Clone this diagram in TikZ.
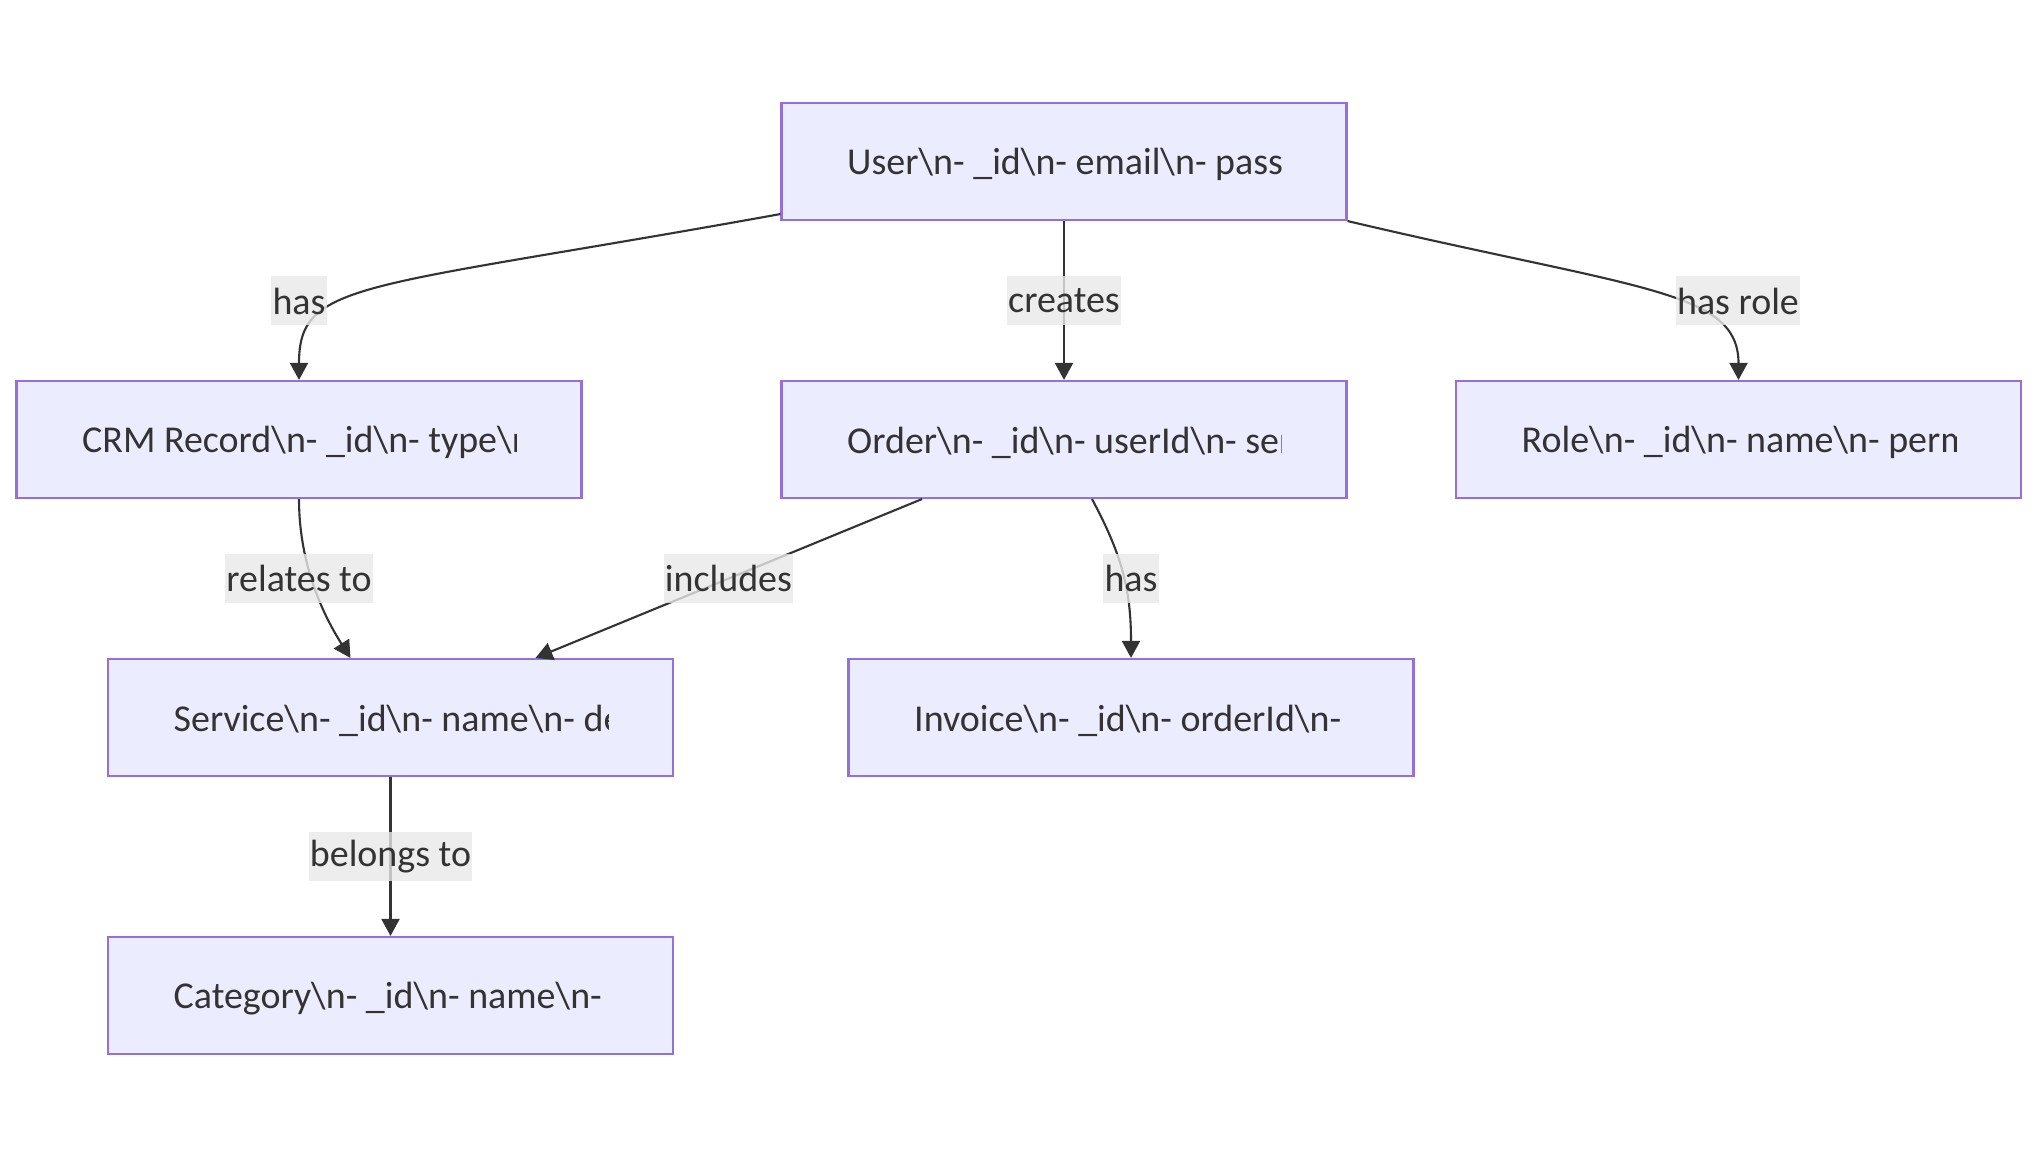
\documentclass[tikz,border=0pt]{standalone}
\usepackage{fontspec}
\setmainfont{Carlito}
\usetikzlibrary{arrows.meta}
\definecolor{EntityFill}{HTML}{ECECFF}
\definecolor{EntityLine}{HTML}{9370DB}
\definecolor{LinkGray}{HTML}{333333}
\definecolor{LabelGray}{HTML}{E8E8E8}

\newcommand{\bsn}{\textbackslash n}
% text of an entity, cut off at the right like the rendered box
\newcommand{\entitylabel}[2]{%
  \begin{scope}
    \clip ([xshift=-2.175cm,yshift=-0.5cm]#1.center) rectangle ([xshift=2.175cm,yshift=0.5cm]#1.center);
    \node[entitytext] (#1-text) at ([xshift=-2.175cm,yshift=-0.03cm]#1.center) {#2};
  \end{scope}}

\tikzset{
  entity/.style={
    draw=EntityLine,
    fill=EntityFill,
    line width=0.6pt,
    minimum width=5.65cm,
    minimum height=1.17cm,
    inner sep=0pt
  },
  entitytext/.style={
    anchor=west,
    inner sep=0pt,
    text=LinkGray,
    font=\fontsize{10.8}{13}\selectfont
  },
  link/.style={
    draw=LinkGray,
    line width=0.6pt,
    -{Triangle[length=0.17cm,width=0.18cm]}
  },
  linklabel/.style={
    fill=LabelGray,
    fill opacity=0.8,
    text opacity=1,
    text=LinkGray,
    inner xsep=0.3pt,
    inner ysep=0pt,
    minimum height=0.49cm,
    font=\fontsize{10.8}{13}\selectfont
  }
}

\begin{document}
\begin{tikzpicture}
  \useasboundingbox (0,0) rectangle (20.38,-11.58);

  % entities
  \node[entity] (user) at (10.64,-1.615) {};
  \node[entity] (crm) at (2.99,-4.395) {};
  \node[entity] (order) at (10.64,-4.395) {};
  \node[entity] (role) at (17.385,-4.395) {};
  \node[entity] (service) at (3.905,-7.175) {};
  \node[entity] (invoice) at (11.31,-7.175) {};
  \node[entity] (category) at (3.905,-9.955) {};

  \entitylabel{user}{User\bsn- \_id\bsn- email\bsn- pass}
  \entitylabel{crm}{CRM Record\bsn- \_id\bsn- type\bsn}
  \entitylabel{order}{Order\bsn- \_id\bsn- userId\bsn- ser}
  \entitylabel{role}{Role\bsn- \_id\bsn- name\bsn- perm}
  \entitylabel{service}{Service\bsn- \_id\bsn- name\bsn- de}
  \entitylabel{invoice}{Invoice\bsn- \_id\bsn- orderId\bsn-}
  \entitylabel{category}{Category\bsn- \_id\bsn- name\bsn-}

  % links
  \draw[link] ([yshift=0.07cm]user.south west) .. controls (3.6,-2.9) and (2.99,-2.8) .. (crm.north);
  \draw[link] (user.south) -- (order.north);
  \draw[link] (user.south east) .. controls (16.4,-2.9) and (17.385,-2.9) .. (role.north);
  \draw[link] (crm.south) .. controls (2.99,-5.6) and (3.2,-6.1) .. ([xshift=-0.4cm]service.north);
  \draw[link] ([xshift=-1.42cm]order.south) -- ([xshift=1.45cm]service.north);
  \draw[link] ([xshift=0.28cm]order.south) .. controls (11.22,-5.55) and (11.31,-5.9) .. (invoice.north);
  \draw[link] (service.south) -- (category.north);

  % link labels
  \node[linklabel] (has-crm) at (2.99,-3.01) {has};
  \node[linklabel] (creates) at (10.64,-3.01) {creates};
  \node[linklabel] (has-role) at (17.38,-3.01) {has role};
  \node[linklabel] (relates) at (2.99,-5.78) {relates to};
  \node[linklabel] (includes) at (7.285,-5.78) {includes};
  \node[linklabel] (has-invoice) at (11.31,-5.78) {has};
  \node[linklabel] (belongs) at (3.905,-8.565) {belongs to};
\end{tikzpicture}
\end{document}
